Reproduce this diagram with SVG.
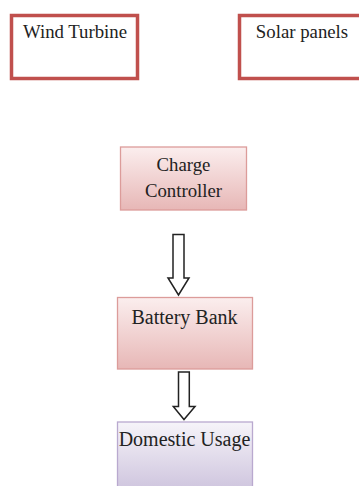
<svg xmlns="http://www.w3.org/2000/svg" width="359" height="486" viewBox="0 0 359 486">
<defs>
<linearGradient id="gRed" x1="0" y1="0" x2="0" y2="1"><stop offset="0" stop-color="#fbeeee"/><stop offset="1" stop-color="#e7b7b6"/></linearGradient>
<linearGradient id="gPurple" x1="0" y1="0" x2="0" y2="1"><stop offset="0" stop-color="#f6f4f9"/><stop offset="1" stop-color="#cdc3dd"/></linearGradient>
<style>
.src{fill:#fff;stroke:#c0504d;stroke-width:3.5}
.red{fill:url(#gRed);stroke:#dc9c9a;stroke-width:1.3}
.pur{fill:url(#gPurple);stroke:#b9a9cf;stroke-width:1.3}
.arr{fill:#fff;stroke:#222;stroke-width:1.5;stroke-linejoin:miter}
.big{font-size:20px}
</style>
</defs>
<g font-family="Liberation Serif, DejaVu Serif, serif" font-size="18.8" fill="#222" text-anchor="middle">
<g id="wind"><rect class="src" x="11.5" y="15.5" width="126" height="63"/><text x="75" y="38">Wind Turbine</text></g>
<g id="solar"><rect class="src" x="239.5" y="15.5" width="130" height="63"/><text x="302" y="38">Solar panels</text></g>
<g id="charge"><rect class="red" x="120.5" y="147" width="126" height="63"/><text x="183.5" y="171">Charge</text><text x="183.5" y="197">Controller</text></g>
<g id="battery"><rect class="red" x="117.5" y="297.5" width="135" height="71.5"/><text class="big" x="184.5" y="323.5">Battery Bank</text></g>
<g id="domestic"><rect class="pur" x="117.5" y="422" width="135" height="70"/><text class="big" x="184.5" y="446">Domestic Usage</text></g>
</g>
<g id="connectors">
<path class="arr" d="M173 234.5 H184 V278 H189 L178.5 295 L168 278 H173 Z"/>
<path class="arr" d="M178.5 372 H189.3 V406.5 H195 L184 419.5 L173.3 406.5 H178.5 Z"/>
</g>
</svg>
